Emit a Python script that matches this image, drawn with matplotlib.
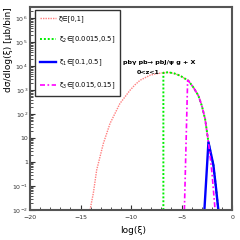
import numpy as np
import matplotlib
matplotlib.use("Agg")
import matplotlib.pyplot as plt
from matplotlib.ticker import FixedLocator, MultipleLocator, LogLocator, NullFormatter

# ---------------------------------------------------------
# data
# ---------------------------------------------------------
x_all = [-14.06, -13.73, -13.4, -12.74, -12.08, -11.1, -10.1, -9.6, -9.1, -8.1,
         -7.6, -7.0, -6.3, -5.7, -5.15, -4.33, -3.83, -3.34, -3.0, -2.67,
         -2.34, -1.85, -1.6, -1.36]
y_all = [0.01, 0.051, 0.47, 6.0, 41, 280, 1000, 1700, 2630, 4270,
         4800, 5250, 5620, 5000, 4070, 2510, 1320, 600, 230, 63,
         6.8, 0.75, 0.09, 0.01]

x_xi2 = [-6.8, -6.8, -6.3, -5.7, -5.15, -4.33, -3.83, -3.34, -3.0, -2.67,
         -2.34, -1.85, -1.6, -1.36]
y_xi2 = [0.01, 5370, 5620, 5000, 4070, 2510, 1320, 600, 230, 63,
         6.8, 0.75, 0.09, 0.01]

x_xi1 = [-2.74, -2.34, -1.85, -1.6, -1.36]
y_xi1 = [0.01, 6.8, 0.75, 0.09, 0.01]

x_xi3 = [-4.72, -4.4, -4.33, -3.83, -3.34, -3.0, -2.67, -2.34, -2.0, -1.68]
y_xi3 = [0.01, 2600, 2510, 1320, 600, 230, 63, 6.8, 0.4, 0.01]

labels = ["ξ∈[0,1]", "ξ$_2$∈[0.0015,0.5]", "ξ$_1$∈[0.1,0.5]", "ξ$_3$∈[0.015,0.15]"]

ytick_vals = [1e-2, 1e-1, 1, 10, 1e2, 1e3, 1e4, 1e5, 1e6]
ytick_labels = [r"$10^{-2}$", r"$10^{-1}$", "1", "10", r"$10^{2}$",
                r"$10^{3}$", r"$10^{4}$", r"$10^{5}$", r"$10^{6}$"]
xtick_vals = [-20, -15, -10, -5, 0]

# ---------------------------------------------------------
# plot
# ---------------------------------------------------------
plt.rcParams["mathtext.fontset"] = "dejavusans"
plt.rcParams["mathtext.default"] = "regular"
fig = plt.figure(figsize=(2.4, 2.4), dpi=100)
ax = fig.add_axes([0.125, 0.125, 0.842, 0.846])

ax.plot(x_all, y_all, color="#ff7f7f", lw=1.0, ls=(0, (1, 0.8)), label=labels[0])
ax.plot(x_xi2, y_xi2, color="#00ee00", lw=1.4, ls=(0, (1, 1)), label=labels[1])
ax.plot(x_xi1, y_xi1, color="#0000ff", lw=1.7, label=labels[2])
ax.plot(x_xi3, y_xi3, color="#ff00ff", lw=1.2, ls=(0, (3, 1.5, 1, 1.5)), label=labels[3])

ax.set_yscale("log")
ax.set_xlim(-20, 0)
ax.set_ylim(1e-2, 3e6)

ax.yaxis.set_major_locator(FixedLocator(ytick_vals))
ax.set_yticklabels(ytick_labels)
ax.yaxis.set_minor_locator(LogLocator(base=10, subs=np.arange(2, 10), numticks=20))
ax.yaxis.set_minor_formatter(NullFormatter())
ax.set_xticks(xtick_vals)
ax.xaxis.set_minor_locator(MultipleLocator(1))

ax.tick_params(which="both", direction="in", labelsize=4.5, colors="#333333")
ax.tick_params(axis="x", pad=3.5)
ax.tick_params(axis="y", pad=1.5)
ax.tick_params(which="major", length=3.5, width=0.8)
ax.tick_params(which="minor", length=2, width=0.6)
for s in ax.spines.values():
    s.set_linewidth(1.5)
    s.set_color("#555555")

leg = ax.legend(loc="upper left", bbox_to_anchor=(0.025, 0.985), fontsize=4.9,
                handlelength=2.3, handletextpad=0.4, labelspacing=1.85,
                borderpad=0.75, borderaxespad=0, fancybox=False, framealpha=1)
leg.get_frame().set_edgecolor("#333333")
leg.get_frame().set_linewidth(1.0)

ax.text(0.46, 0.724, "pbγ pb→ pbJ/ψ g + X", transform=ax.transAxes,
        fontsize=4.6, fontweight="bold", ha="left", va="center")
ax.text(0.585, 0.675, "0<z<1", transform=ax.transAxes,
        fontsize=4.6, fontweight="bold", ha="center", va="center")

fig.text(0.555, 0.04, "log(ξ)", fontsize=6.5, ha="center", va="center")
fig.text(0.035, 0.97, "dσ/dlog(ξ) [μb/bin]", fontsize=6.5,
         rotation=90, ha="center", va="top")

fig.savefig("out.png", dpi=100)
